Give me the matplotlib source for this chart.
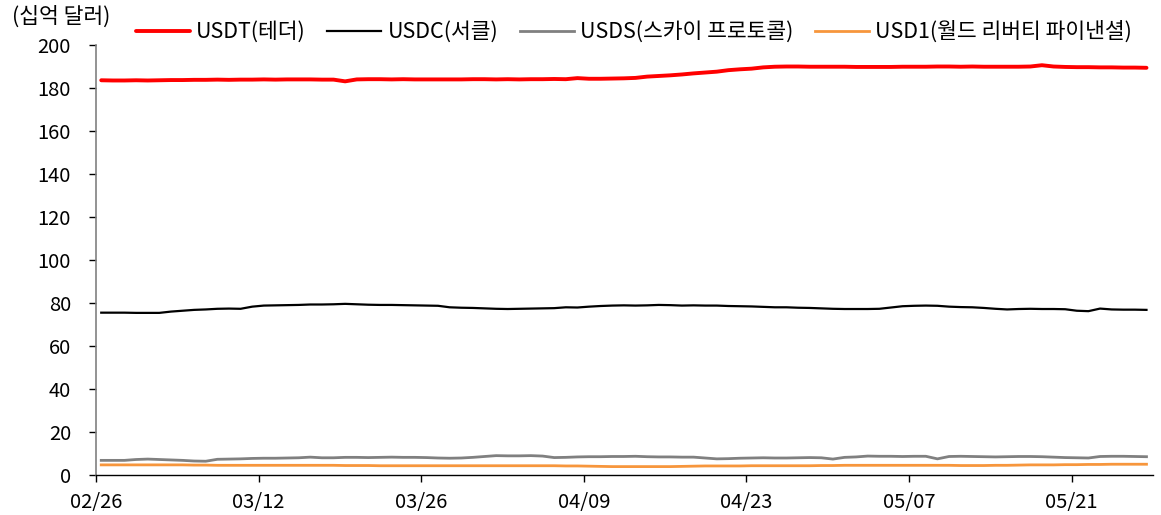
import matplotlib
matplotlib.use("Agg")
import matplotlib.pyplot as plt
import numpy as np
import pandas as pd

plt.rcParams['font.family'] = ['Noto Sans CJK KR', 'DejaVu Sans']

start_date = "2025-02-26"
n_days = 91
tick_labels = ["02/26", "03/12", "03/26", "04/09", "04/23", "05/07", "05/21"]

series_names = ["USDT(테더)", "USDC(서클)", "USDS(스카이 프로토콜)", "USD1(월드 리버티 파이낸셜)"]

usdt = [183.6,183.5,183.5,183.6,183.5,183.6,183.7,183.7,183.8,183.8,
        183.9,183.8,183.9,183.9,184.0,183.9,184.0,184.0,184.0,183.9,
        183.9,183.1,184.0,184.1,184.1,184.0,184.1,184.0,184.0,184.0,
        184.0,184.0,184.1,184.1,184.0,184.1,184.0,184.1,184.1,184.2,
        184.1,184.6,184.3,184.3,184.4,184.5,184.7,185.3,185.6,185.9,
        186.3,186.8,187.2,187.6,188.3,188.7,189.0,189.6,189.9,190.0,
        190.0,189.9,189.9,189.9,189.9,189.8,189.8,189.8,189.8,189.9,
        189.9,189.9,190.0,190.0,189.9,190.0,189.9,189.9,189.9,189.9,
        190.0,190.6,190.0,189.8,189.7,189.7,189.6,189.6,189.5,189.5,
        189.4]

usdc = [75.5,75.5,75.5,75.4,75.4,75.4,76.0,76.4,76.8,77.0,
        77.3,77.4,77.3,78.3,78.8,78.9,79.0,79.1,79.3,79.3,
        79.4,79.6,79.4,79.2,79.1,79.1,79.0,78.9,78.8,78.7,
        78.0,77.8,77.7,77.5,77.3,77.2,77.3,77.4,77.5,77.6,
        78.0,77.9,78.3,78.6,78.8,78.9,78.8,78.9,79.1,79.0,
        78.8,78.9,78.8,78.8,78.6,78.5,78.4,78.2,78.0,78.0,
        77.8,77.7,77.5,77.3,77.2,77.2,77.2,77.3,77.9,78.5,
        78.7,78.8,78.7,78.3,78.1,78.0,77.7,77.3,77.0,77.2,
        77.3,77.2,77.2,77.1,76.4,76.2,77.4,77.0,76.9,76.9,
        76.8]

usds = [6.8,6.8,6.8,7.2,7.4,7.2,7.0,6.8,6.5,6.4,
        7.3,7.4,7.5,7.7,7.8,7.8,7.9,8.0,8.3,8.0,
        8.0,8.2,8.2,8.1,8.2,8.3,8.2,8.2,8.1,7.9,
        7.8,7.9,8.2,8.6,9.0,8.9,8.9,9.0,8.8,8.1,
        8.2,8.4,8.5,8.5,8.6,8.6,8.7,8.5,8.4,8.4,
        8.3,8.3,7.9,7.5,7.6,7.8,7.9,8.0,7.9,7.9,
        8.0,8.1,8.0,7.4,8.2,8.4,8.8,8.7,8.7,8.6,
        8.7,8.7,7.5,8.6,8.7,8.6,8.5,8.4,8.5,8.6,
        8.6,8.5,8.3,8.1,8.0,7.9,8.6,8.7,8.7,8.6,
        8.5]

usd1 = [4.7,4.7,4.7,4.7,4.7,4.7,4.7,4.7,4.6,4.6,
        4.5,4.5,4.5,4.5,4.5,4.5,4.5,4.5,4.5,4.5,
        4.5,4.4,4.4,4.4,4.3,4.3,4.3,4.3,4.3,4.3,
        4.3,4.3,4.3,4.3,4.3,4.3,4.3,4.3,4.3,4.3,
        4.2,4.2,4.1,4.0,3.9,3.9,3.9,3.9,3.9,3.9,
        4.0,4.1,4.2,4.2,4.2,4.2,4.3,4.3,4.3,4.3,
        4.3,4.3,4.4,4.4,4.5,4.5,4.5,4.5,4.5,4.5,
        4.5,4.5,4.5,4.5,4.4,4.4,4.4,4.5,4.5,4.6,
        4.7,4.7,4.7,4.8,4.8,4.9,4.9,5.0,5.0,5.0,
        5.0]

dates = pd.date_range(start_date, periods=n_days, freq="D")
day_index = (dates - dates[0]).days.values.astype(float)
x = day_index + 0.45

fig = plt.figure(figsize=(11.61, 5.15), dpi=100)
ax = fig.add_axes([0.0827, 0.0777, 0.993 - 0.0827, 0.9126 - 0.0777])

ax.plot(x, usdt, color="#FF0000", lw=2.8, label=series_names[0], solid_capstyle="round")
ax.plot(x, usdc, color="#000000", lw=1.6, label=series_names[1])
ax.plot(x, usds, color="#808080", lw=2.0, label=series_names[2])
ax.plot(x, usd1, color="#F7963C", lw=2.0, label=series_names[3])

ax.set_xlim(0, 91)
ax.set_ylim(0, 200)
ax.set_yticks(np.arange(0, 201, 20))
ax.set_xticks(np.arange(0, 85, 14))
ax.set_xticklabels(tick_labels)

for s in ["top", "right"]:
    ax.spines[s].set_visible(False)
ax.spines["left"].set_color("#808080")
ax.spines["left"].set_linewidth(1.2)
ax.spines["bottom"].set_color("#000000")
ax.spines["bottom"].set_linewidth(1.0)

ax.tick_params(axis="y", direction="out", length=5, width=1, pad=13, labelsize=14.5, colors="#000000")
ax.tick_params(axis="x", direction="out", length=5, width=1, pad=7, labelsize=14.5)

fig.text(12/1161, 1 - 17/515, "(십억 달러)", fontsize=15.5, ha="left", va="center")

fig.legend(loc="center", bbox_to_anchor=(634/1161, 1 - 32/515), ncol=4, frameon=False,
           fontsize=15.5, handlelength=2.5, handletextpad=0.3, columnspacing=1.0,
           borderaxespad=0)

fig.savefig("out.png", dpi=100)
